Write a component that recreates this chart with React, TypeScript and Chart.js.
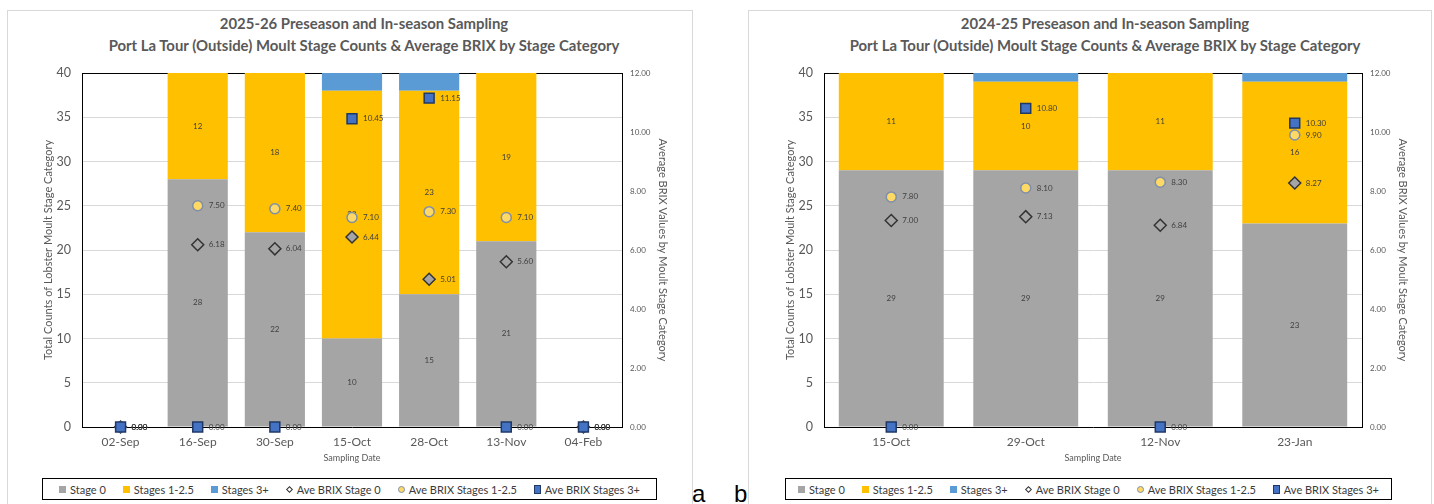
import React, { useEffect, useRef } from "react";
import { Chart, registerables } from "chart.js";

Chart.register(...registerables);

// ---------- Data ----------
const seriesNames = [
  "Stage 0",
  "Stages 1-2.5",
  "Stages 3+",
  "Ave BRIX Stage 0",
  "Ave BRIX Stages 1-2.5",
  "Ave BRIX Stages 3+",
];

const datesA = ["02-Sep", "16-Sep", "30-Sep", "15-Oct", "28-Oct", "13-Nov", "04-Feb"];
const stage0A = [0, 28, 22, 10, 15, 21, 0];
const stage12A = [0, 12, 18, 28, 23, 19, 0];
const stage3A = [0, 0, 0, 2, 2, 0, 0];
const brix0A = [0, 6.18, 6.04, 6.44, 5.01, 5.6, 0];
const brix12A = [0, 7.5, 7.4, 7.1, 7.3, 7.1, 0];
const brix3A = [0, 0, 0, 10.45, 11.15, 0, 0];

const datesB = ["15-Oct", "29-Oct", "12-Nov", "23-Jan"];
const stage0B = [29, 29, 29, 23];
const stage12B = [11, 10, 11, 16];
const stage3B = [0, 1, 0, 1];
const brix0B = [7.0, 7.13, 6.84, 8.27];
const brix12B = [7.8, 8.1, 8.3, 9.9];
const brix3B = [0, 10.8, 0, 10.3];

const titleA = [
  "2025-26 Preseason and In-season Sampling",
  "Port La Tour (Outside) Moult Stage Counts & Average BRIX by Stage Category",
];
const titleB = [
  "2024-25 Preseason and In-season Sampling",
  "Port La Tour (Outside) Moult Stage Counts & Average BRIX by Stage Category",
];

const countMax = 40;
const countStep = 5;
const brixMax = 12;
const brixStep = 2;

// ---------- Styles ----------
const FONT = "Lato, 'Open Sans', sans-serif";
const C_STAGE0 = "#A5A5A5";
const C_STAGE12 = "#FFC000";
const C_STAGE3 = "#5B9BD5";
const TXT = "#595959";

const labelPlugin = {
  id: "valueLabels",
  beforeDatasetsDraw(chart: any) {
    const { ctx, chartArea } = chart;
    ctx.save();
    ctx.strokeStyle = "#000";
    ctx.lineWidth = 1;
    ctx.beginPath();
    ctx.moveTo(chartArea.left, chartArea.top + 0.5);
    ctx.lineTo(chartArea.right, chartArea.top + 0.5);
    ctx.stroke();
    ctx.restore();
  },
  afterDatasetDraw(chart: any, args: any) {
    const ds = chart.data.datasets[args.index];
    if (ds.type !== "bar" || !ds.showValues) return;
    const ctx = chart.ctx;
    ctx.save();
    ctx.font = `8px ${FONT}`;
    ctx.fillStyle = "#404040";
    ctx.textAlign = "center";
    ctx.textBaseline = "middle";
    args.meta.data.forEach((el: any, i: number) => {
      const v = ds.data[i];
      if (!v) return;
      const p = el.getProps(["x", "y", "base"], true);
      ctx.fillText(String(v), p.x, (p.y + p.base) / 2);
    });
    ctx.restore();
  },
  afterDatasetsDraw(chart: any) {
    const ctx = chart.ctx;
    ctx.save();
    ctx.font = `8px ${FONT}`;
    ctx.fillStyle = "#404040";
    ctx.textAlign = "left";
    ctx.textBaseline = "middle";
    chart.data.datasets.forEach((ds: any, di: number) => {
      if (ds.type !== "line") return;
      const meta = chart.getDatasetMeta(di);
      meta.data.forEach((pt: any, i: number) => {
        ctx.fillText(Number(ds.data[i]).toFixed(2), pt.x + 11, pt.y);
      });
    });
    ctx.restore();
  },
};

type PanelProps = {
  left: number;
  plotRight: number;
  dates: string[];
  s0: number[];
  s12: number[];
  s3: number[];
  b0: number[];
  b12: number[];
  b3: number[];
};

const CW = 700;
const CH = 470;

function ChartCanvas(p: PanelProps) {
  const ref = useRef<HTMLCanvasElement | null>(null);
  useEffect(() => {
    if (!ref.current) return;
    const y1W = 50;
    const chart = new Chart(ref.current, {
      type: "bar",
      data: {
        labels: p.dates,
        datasets: [
          { type: "bar", label: seriesNames[0], data: p.s0, backgroundColor: C_STAGE0, barPercentage: 0.78, categoryPercentage: 1, order: 10, showValues: true, yAxisID: "y" } as any,
          { type: "bar", label: seriesNames[1], data: p.s12, backgroundColor: C_STAGE12, barPercentage: 0.78, categoryPercentage: 1, order: 11, showValues: true, yAxisID: "y" } as any,
          { type: "bar", label: seriesNames[2], data: p.s3, backgroundColor: C_STAGE3, barPercentage: 0.78, categoryPercentage: 1, order: 12, showValues: false, yAxisID: "y" } as any,
          { type: "line", label: seriesNames[3], data: p.b0, yAxisID: "y1", showLine: false, clip: false, order: 3, pointStyle: "rectRot", pointRadius: 6, pointBackgroundColor: C_STAGE0, pointBorderColor: "#333333", pointBorderWidth: 1.5 } as any,
          { type: "line", label: seriesNames[4], data: p.b12, yAxisID: "y1", showLine: false, clip: false, order: 2, pointStyle: "circle", pointRadius: 5, pointBackgroundColor: "#FFD966", pointBorderColor: "#7F8FA9", pointBorderWidth: 1.5 } as any,
          { type: "line", label: seriesNames[5], data: p.b3, yAxisID: "y1", showLine: false, clip: false, order: 1, pointStyle: "rect", pointRadius: 7, pointBackgroundColor: "#4472C4", pointBorderColor: "#1F3864", pointBorderWidth: 1.5 } as any,
        ],
      },
      options: {
        responsive: false,
        maintainAspectRatio: false,
        animation: false,
        events: [],
        layout: { padding: { top: 73, left: 0, right: CW - p.plotRight - y1W, bottom: 0 } },
        plugins: { legend: { display: false }, title: { display: false }, tooltip: { enabled: false } },
        scales: {
          x: {
            stacked: true,
            grid: { display: false, drawTicks: false },
            border: { display: true, color: "#000", width: 1 },
            ticks: { color: TXT, font: { family: FONT, size: 12 }, padding: 8, maxRotation: 0, autoSkip: false },
            title: { display: true, text: "Sampling Date", color: TXT, font: { family: FONT, size: 9 }, padding: { top: 0, bottom: 7 } },
            afterFit: (s: any) => { s.height = CH - 427; },
          },
          y: {
            stacked: true,
            position: "left",
            min: 0,
            max: countMax,
            ticks: { stepSize: countStep, color: TXT, font: { family: FONT, size: 12.5 }, padding: 11 },
            grid: { color: "#D9D9D9", drawTicks: false },
            border: { color: "#000", width: 1 },
            title: { display: true, text: "Total Counts of Lobster Moult Stage Category", color: TXT, font: { family: FONT, size: 11 }, padding: { top: 42, bottom: 0 } },
            afterFit: (s: any) => { s.width = 82; },
          },
          y1: {
            position: "right",
            min: 0,
            max: brixMax,
            ticks: { stepSize: brixStep, color: TXT, font: { family: FONT, size: 8 }, padding: 8, callback: (v: any) => Number(v).toFixed(2) },
            grid: { drawOnChartArea: false, drawTicks: false },
            border: { color: "#000", width: 1 },
            title: { display: true, text: "Average BRIX Values by Moult Stage Category", color: TXT, font: { family: FONT, size: 11 }, padding: { top: 3, bottom: 0 } },
            afterFit: (s: any) => { s.width = y1W; },
          },
        },
      } as any,
      plugins: [labelPlugin],
    });
    return () => chart.destroy();
  }, []);
  return (
    <canvas
      ref={ref}
      width={CW}
      height={CH}
      style={{ position: "absolute", left: p.left, top: 0, width: CW, height: CH }}
    />
  );
}

function LegendMarker({ i }: { i: number }) {
  const base: React.CSSProperties = { display: "inline-block", boxSizing: "border-box", marginRight: 4 };
  if (i === 0) return <span style={{ ...base, width: 7, height: 7, background: C_STAGE0 }} />;
  if (i === 1) return <span style={{ ...base, width: 7, height: 7, background: C_STAGE12 }} />;
  if (i === 2) return <span style={{ ...base, width: 7, height: 7, background: C_STAGE3 }} />;
  if (i === 3)
    return <span style={{ ...base, width: 5, height: 5, background: "#fff", border: "1.5px solid #333", transform: "rotate(45deg)", marginLeft: 1, marginRight: 5 }} />;
  if (i === 4)
    return <span style={{ ...base, width: 7, height: 7, borderRadius: "50%", background: "#FFD966", border: "1.2px solid #7F8FA9" }} />;
  return <span style={{ ...base, width: 7, height: 9, background: "#4472C4", border: "1.2px solid #1F3864" }} />;
}

function Legend({ left, width }: { left: number; width: number }) {
  return (
    <div
      style={{
        position: "absolute",
        left,
        top: 478,
        width,
        height: 22,
        boxSizing: "border-box",
        border: "1px solid #000",
        display: "flex",
        alignItems: "center",
        justifyContent: "center",
        gap: 17,
        fontFamily: FONT,
        fontSize: 11,
        color: "#3A3A3A",
        whiteSpace: "nowrap",
      }}
    >
      {seriesNames.map((n, i) => (
        <span key={n} style={{ display: "inline-flex", alignItems: "center" }}>
          <LegendMarker i={i} />
          {n}
        </span>
      ))}
    </div>
  );
}

function Titles({ cx, lines }: { cx: number; lines: string[] }) {
  return (
    <>
      {lines.map((t, i) => (
        <div
          key={i}
          style={{
            position: "absolute",
            left: cx,
            top: 13 + i * 22,
            transform: "translateX(-50%)",
            whiteSpace: "nowrap",
            fontFamily: FONT,
            fontWeight: 700,
            fontSize: 14.9,
            lineHeight: "20px",
            color: TXT,
          }}
        >
          {t}
        </div>
      ))}
    </>
  );
}

export default function App() {
  return (
    <div
      style={{
        position: "absolute",
        left: 0,
        top: 0,
        width: 1434,
        height: 504,
        overflow: "hidden",
        background: "#fff",
      }}
    >
      <div style={{ position: "absolute", left: 7, top: 10, width: 686, height: 520, border: "1px solid #D9D9D9", boxSizing: "border-box" }} />
      <div style={{ position: "absolute", left: 748, top: 10, width: 684, height: 520, border: "1px solid #D9D9D9", boxSizing: "border-box" }} />

      <Titles cx={364} lines={titleA} />
      <Titles cx={1105} lines={titleB} />

      <ChartCanvas left={0} plotRight={622} dates={datesA} s0={stage0A} s12={stage12A} s3={stage3A} b0={brix0A} b12={brix12A} b3={brix3A} />
      <ChartCanvas left={742} plotRight={620} dates={datesB} s0={stage0B} s12={stage12B} s3={stage3B} b0={brix0B} b12={brix12B} b3={brix3B} />

      <Legend left={42} width={615} />
      <Legend left={785} width={607} />

      <span style={{ position: "absolute", left: 692, top: 482, fontFamily: "'Liberation Sans', Arial, sans-serif", fontSize: 24, lineHeight: "24px", color: "#000" }}>a</span>
      <span style={{ position: "absolute", left: 734, top: 482, fontFamily: "'Liberation Sans', Arial, sans-serif", fontSize: 24, lineHeight: "24px", color: "#000" }}>b</span>
    </div>
  );
}
